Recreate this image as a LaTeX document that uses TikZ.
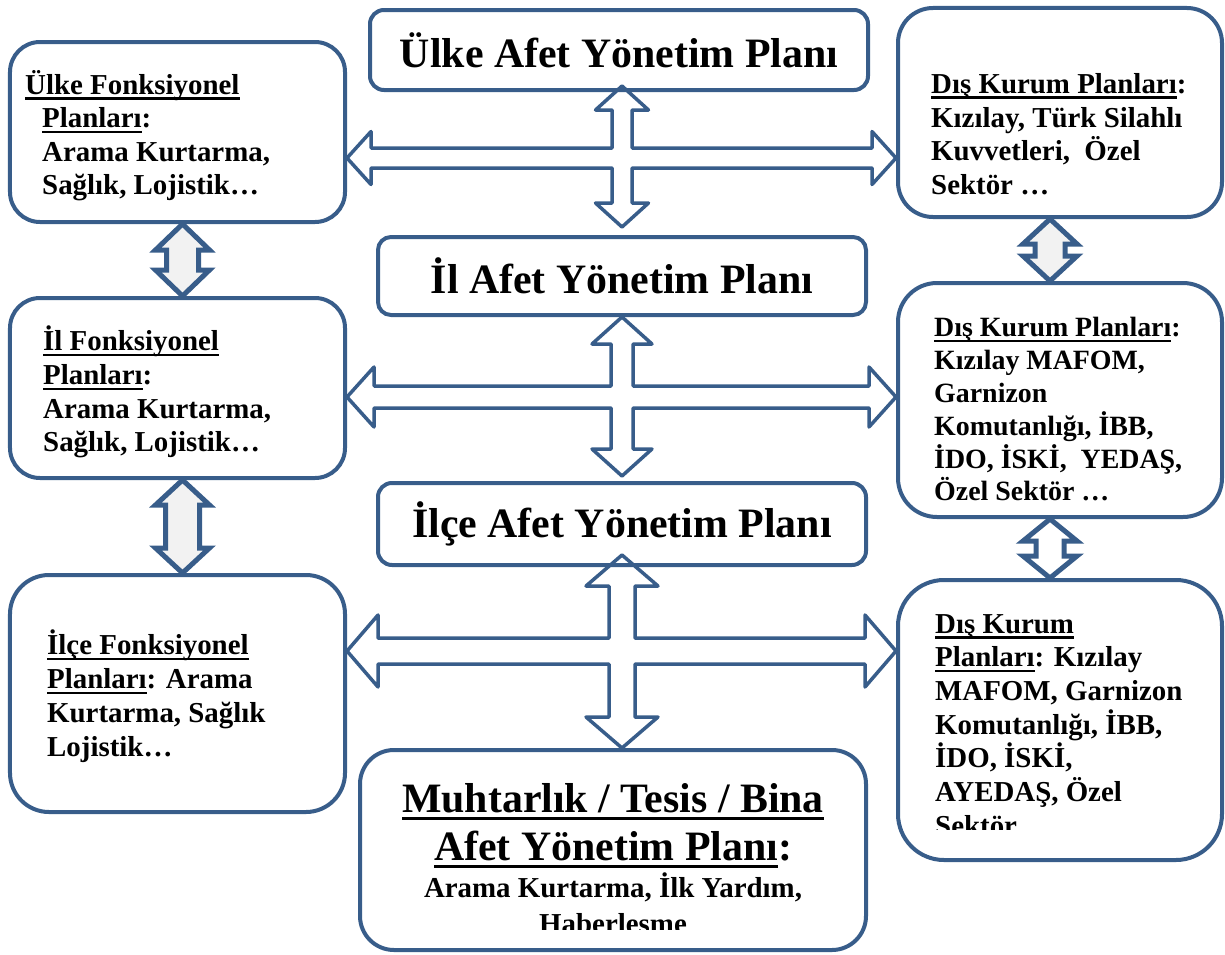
\documentclass[tikz,border=0pt]{standalone}
\usepackage{fontspec}
\setmainfont{Liberation Serif}
\usetikzlibrary{calc,backgrounds}
\definecolor{planblue}{HTML}{385D8A}
\definecolor{arrowgray}{HTML}{F2F2F2}
\newcommand\ulword[1]{\setbox0\hbox{#1}\rlap{\rule[-0.19em]{\wd0}{0.08em}}\box0}
\newcommand\crossarrow[7]{%
  \draw[bigarrow] let \p1=(#1), \p2=(#2), \p3=(#3), \p4=(#4) in
    (\x1,\y1) -- (\x1+#6,\y1-#7) -- (\x1+#5,\y1-#7) -- (\x1+#5,\y3+#5)
    -- (\x4-#7,\y3+#5) -- (\x4-#7,\y3+#6) -- (\x4,\y3) -- (\x4-#7,\y3-#6) -- (\x4-#7,\y3-#5)
    -- (\x1+#5,\y3-#5) -- (\x1+#5,\y2+#7) -- (\x1+#6,\y2+#7) -- (\x1,\y2)
    -- (\x1-#6,\y2+#7) -- (\x1-#5,\y2+#7) -- (\x1-#5,\y3-#5)
    -- (\x3+#7,\y3-#5) -- (\x3+#7,\y3-#6) -- (\x3,\y3) -- (\x3+#7,\y3+#6) -- (\x3+#7,\y3+#5)
    -- (\x1-#5,\y3+#5) -- (\x1-#5,\y1-#7) -- (\x1-#6,\y1-#7) -- cycle;}
\newcommand\vdarrow[6]{%
  \draw[smallarrow, fill=#6] let \p1=(#1), \p2=(#2) in
    (\x1,\y1) -- (\x1+#4,\y1-#5) -- (\x1+#3,\y1-#5) -- (\x1+#3,\y2+#5) -- (\x1+#4,\y2+#5)
    -- (\x1,\y2) -- (\x1-#4,\y2+#5) -- (\x1-#3,\y2+#5) -- (\x1-#3,\y1-#5) -- (\x1-#4,\y1-#5) -- cycle;}
\tikzset{
  planbox/.style={draw=planblue, line width=4bp, inner sep=0pt},
  titlefont/.style={font=\bfseries\fontsize{42}{48}\selectfont},
  bigarrow/.style={draw=planblue, line width=3.5bp, fill=white, line join=round},
  smallarrow/.style={draw=planblue, line width=5bp, line join=miter},
  txt/.style={anchor=north west, inner sep=0pt, align=left,
    font=\bfseries\fontsize{29}{33.7}\selectfont, execute at begin node=\rule{0pt}{26bp}},
}
\begin{document}
\begin{tikzpicture}[x=1bp, y=-1bp]
  \useasboundingbox (0,0) rectangle (1225,955);
  % plan boxes
  \node[planbox, titlefont, rounded corners=14bp, minimum width=498bp, minimum height=80bp] (ulkeplan) at (619,50) {Ülke Afet Yönetim Planı};
  \node[planbox, titlefont, rounded corners=13bp, minimum width=488bp, minimum height=78bp] (ilplan) at (622,276) {İl Afet Yönetim Planı};
  \node[planbox, titlefont, rounded corners=14bp, minimum width=488bp, minimum height=82bp] (ilceplan) at (622,524) {İlçe Afet Yönetim Planı};
  \node[planbox, rounded corners=34bp, minimum width=506bp, minimum height=200bp] (muhtar) at (613,850) {};
  \node[planbox, rounded corners=30bp, minimum width=335bp, minimum height=180bp] (ulkefonk) at (177.5,132) {};
  \node[planbox, rounded corners=30bp, minimum width=335bp, minimum height=180bp] (ilfonk) at (177.5,388) {};
  \node[planbox, rounded corners=39bp, minimum width=335bp, minimum height=237bp] (ilcefonk) at (177.5,693.5) {};
  \node[planbox, rounded corners=35bp, minimum width=324bp, minimum height=209bp] (dis1) at (1060,112.5) {};
  \node[planbox, rounded corners=39bp, minimum width=324bp, minimum height=234bp] (dis2) at (1060,400) {};
  \node[planbox, rounded corners=46bp, minimum width=324bp, minimum height=280bp] (dis3) at (1060,720) {};

  \coordinate (row1) at (0,158);
  \coordinate (row2) at (0,397);
  \coordinate (row3) at (0,651);

  \begin{scope}[on background layer]
    \crossarrow{$(ilplan.north |- ulkeplan.south)+(0,-6)$}{$(ilplan.north)+(0,-8)$}{ulkefonk.east |- row1}{dis1.west |- row1}{10bp}{26.5bp}{24bp}
    \crossarrow{ilplan.south}{$(ilceplan.north)+(0,-5)$}{ilfonk.east |- row2}{dis2.west |- row2}{11bp}{30bp}{27bp}
    \crossarrow{$(ilceplan.south)+(0,-12)$}{muhtar.north -| ilceplan.south}{ilcefonk.east |- row3}{dis3.west |- row3}{13bp}{36bp}{31bp}
    \vdarrow{$(ulkefonk.south)+(5,0)$}{$(ilfonk.north)+(5,0)$}{16bp}{27bp}{26bp}{arrowgray}
    \vdarrow{$(ilfonk.south)+(5,0)$}{$(ilcefonk.north)+(5,0)$}{17bp}{27bp}{25bp}{arrowgray}
    \vdarrow{$(dis1.south)+(-10,0)$}{$(dis2.north)+(-10,0)$}{15bp}{27bp}{25bp}{arrowgray}
    \vdarrow{$(dis2.south)+(-10,0)$}{$(dis3.north)+(-10,0)$}{14bp}{27bp}{22bp}{white}
  \end{scope}

  % texts
  \node[txt] (ulkefonktxt) at (25,70) {\ulword{Ülke Fonksiyonel}\\
    \hspace*{17bp}\ulword{Planları}:\\ \hspace*{17bp}Arama Kurtarma,\\ \hspace*{17bp}Sağlık, Lojistik…};
  \node[txt] (ilfonktxt) at (43,326) {\ulword{İl Fonksiyonel}\\ \ulword{Planları}:\\ Arama Kurtarma,\\ Sağlık, Lojistik…};
  \node[txt, font=\bfseries\fontsize{29}{34}\selectfont] (ilcefonktxt) at (47,630) {\ulword{İlçe Fonksiyonel}\\ \ulword{Planları}: Arama\\ Kurtarma, Sağlık\\ Lojistik…};
  \node[txt, font=\bfseries\fontsize{29}{34}\selectfont] (dis1txt) at (931,73) {\ulword{Dış Kurum Planları}:\\ Kızılay, Türk Silahlı\\ Kuvvetleri,~ Özel\\ Sektör …};
  \node[txt, font=\bfseries\fontsize{28}{33}\selectfont] (dis2txt) at (934,317) {\ulword{Dış Kurum Planları}:\\ Kızılay MAFOM,\\ Garnizon\\
    Komutanlığı, İBB,\\ İDO, İSKİ,~ YEDAŞ,\\ Özel Sektör …};
  \begin{scope}
    \clip (900,590) rectangle (1220,829);
    \node[txt, font=\bfseries\fontsize{29}{33.8}\selectfont] (dis3txt) at (935,614) {\ulword{Dış Kurum}\\ \ulword{Planları}: Kızılay\\ MAFOM, Garnizon\\
      Komutanlığı, İBB,\\ İDO, İSKİ,\\ AYEDAŞ, Özel\\ Sektör …};
  \end{scope}
  \node[txt, titlefont, anchor=north, align=center, execute at begin node=\rule{0pt}{38bp}] (muhtartitle) at (613,783)
    {\ulword{Muhtarlık / Tesis / Bina}\\ \ulword{Afet Yönetim Planı}:};
  \begin{scope}
    \clip (370,860) rectangle (860,929);
    \node[txt, anchor=north, align=center, font=\bfseries\fontsize{29}{36}\selectfont] (muhtartxt) at (613,873) {Arama Kurtarma, İlk Yardım,\\ Haberlesme};
  \end{scope}
\end{tikzpicture}
\end{document}
